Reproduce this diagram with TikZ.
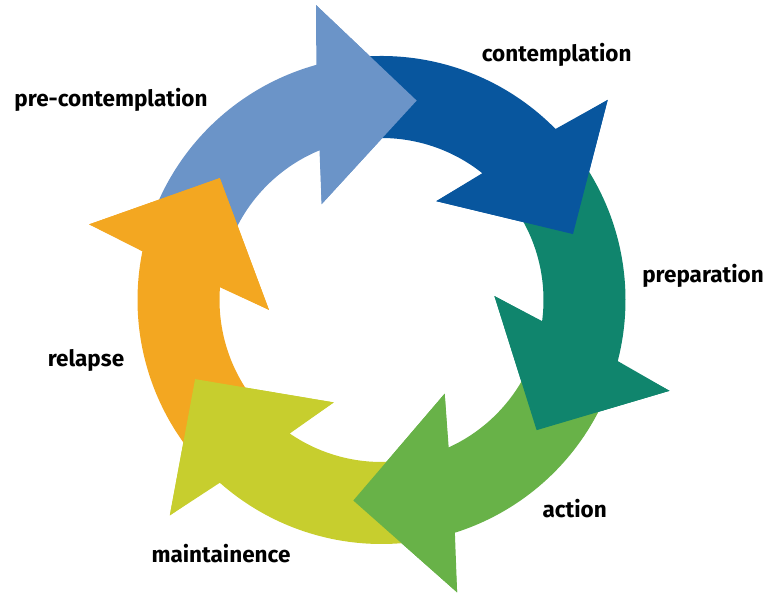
\documentclass[tikz,border=0pt]{standalone}
\usepackage{fontspec}
\setmainfont{Fira Sans}
\usetikzlibrary{calc}
\definecolor{cLB}{RGB}{107,148,200}
\definecolor{cDB}{RGB}{8,86,158}
\definecolor{cTL}{RGB}{16,133,109}
\definecolor{cGR}{RGB}{104,178,72}
\definecolor{cLM}{RGB}{199,206,46}
\definecolor{cOR}{RGB}{243,167,33}
\begin{document}
\begin{tikzpicture}[x=1pt,y=1pt,
  lbl/.style={font=\bfseries\fontsize{22.5}{27}\selectfont, anchor=base, inner sep=0pt, text=black}]
\useasboundingbox (0,0) rectangle (778,596);
\coordinate (C) at (381.5,296);
% full arrows (tail + head)
\foreach \t/\p/\c in {80/143/cLB, 19/80/cDB, -40/19/cTL, -98/-40/cGR, -157/-98/cLM, -217/-157/cOR}{
  \fill[\c] ($(C)+({\p+18}:244)$) arc[start angle={\p+18}, end angle={\t+25.5}, radius=244]
     -- ($(C)+({\t+22.5}:302)$) -- ($(C)+(\t:202.5)$) -- ($(C)+({\t+42}:113)$)
     -- ($(C)+({\t+32.5}:162)$)
     arc[start angle={\t+32.5}, end angle={\p+18}, radius=162] -- cycle;
}
% heads on top of the following tails
\foreach \t/\c in {80/cLB, 19/cDB, -40/cTL, -98/cGR, -157/cLM, -217/cOR}{
  \fill[\c] ($(C)+({\t+22.5}:302)$) -- ($(C)+(\t:202.5)$) -- ($(C)+({\t+42}:113)$) -- cycle;
}
\node[lbl] (pre)  at (111,489)   {pre-contemplation};
\node[lbl] (con)  at (556.7,534.3) {contemplation};
\node[lbl] (prep) at (703,313)   {preparation};
\node[lbl] (act)  at (574.7,78.3) {action};
\node[lbl] (main) at (221,33.3)  {maintainence};
\node[lbl] (rel)  at (86,229)    {relapse};
\end{tikzpicture}
\end{document}
